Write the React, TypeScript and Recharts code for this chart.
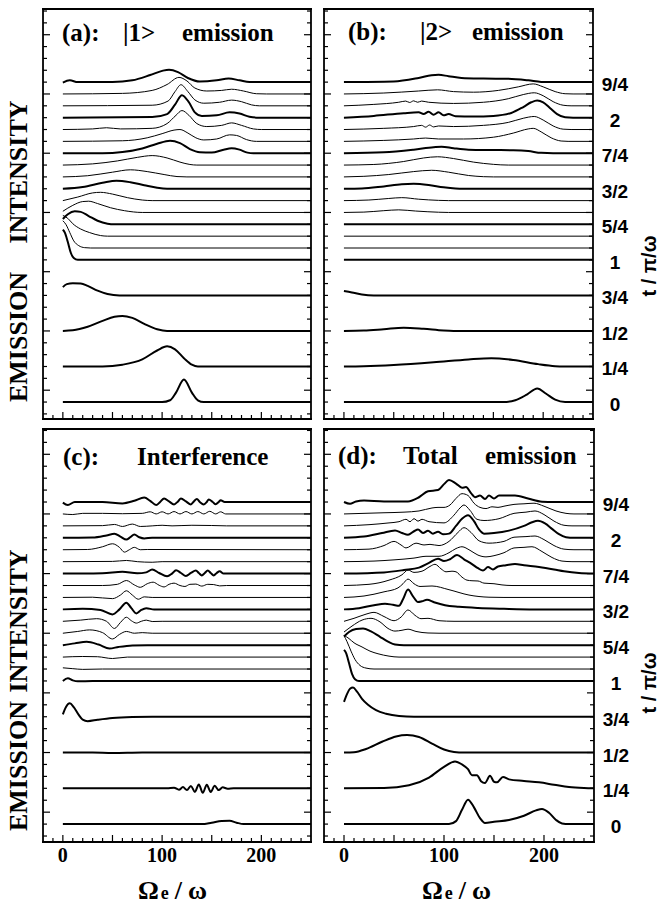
import React from 'react';
import { ComposedChart, Line, XAxis, YAxis } from 'recharts';

type Pt = [number, number];

// trace times in twelfths of pi/omega, bottom trace first
const twelfths = [0, 3, 6, 9, 12, 13, 14, 15, 16, 17, 18, 19, 20, 21, 22, 23, 24, 25, 26, 27];

const timeLabels: Record<number, string> = {
  0: '0', 3: '1/4', 6: '1/2', 9: '3/4', 12: '1', 15: '5/4', 18: '3/2', 21: '7/4', 24: '2', 27: '9/4',
};

const xTicks = [-10, 0, 10, 20, 30, 40, 50, 60, 70, 80, 90, 100, 110, 120, 130, 140, 150, 160, 170, 180, 190, 200, 210, 220, 230, 240];
const yTicks = [-1, 0, 1, 2, 3, 4, 5, 6, 7, 8, 9, 10, 11, 12, 13, 14, 15, 16, 17, 18, 19, 20, 21, 22, 23, 24, 25, 26, 27, 28, 29, 30, 31, 32, 33];
const freqLabels = [0, 100, 200];

// spectra: [Omega_e/omega, intensity above the trace baseline]
const emission1: Pt[][] = [
  [[0, 0], [100, 0], [108, 0.15], [114, 0.8], [122, 1.9], [130, 0.8], [136, 0.15], [142, 0], [250, 0]],
  [[0, 0], [40, 0], [60, 0.15], [80, 0.6], [95, 1.35], [105, 1.7], [113, 1.45], [122, 0.7], [130, 0.15], [136, 0], [250, 0]],
  [[0, 0], [10, 0.05], [25, 0.35], [40, 0.85], [52, 1.2], [60, 1.27], [70, 1.1], [82, 0.6], [95, 0.15], [105, 0], [250, 0]],
  [[0, 0.7], [4, 0.95], [10, 1.02], [18, 1.0], [25, 0.8], [35, 0.4], [45, 0.12], [57, 0], [250, 0]],
  [[0, 2.55], [2, 2.3], [5, 1.5], [8, 0.6], [11, 0.15], [15, 0], [250, 0]],
  [[0, 2.3], [3, 2.0], [7, 1.3], [11, 0.6], [16, 0.2], [22, 0.03], [28, 0], [250, 0]],
  [[0, 1.75], [5, 1.5], [10, 1.05], [18, 0.6], [27, 0.3], [38, 0.05], [45, 0], [250, 0]],
  [[0, 0.45], [5, 0.85], [12, 1.1], [18, 1.05], [26, 0.7], [35, 0.3], [45, 0.05], [52, 0], [250, 0]],
  [[0, 0.1], [10, 0.6], [20, 0.92], [26, 0.95], [35, 0.75], [48, 0.4], [62, 0.15], [80, 0], [250, 0]],
  [[0, 0], [15, 0.3], [30, 0.65], [38, 0.7], [50, 0.55], [65, 0.25], [80, 0.05], [90, 0], [250, 0]],
  [[0, 0], [20, 0.15], [40, 0.5], [54, 0.68], [68, 0.55], [82, 0.3], [95, 0.08], [105, 0], [250, 0]],
  [[0, 0], [25, 0.1], [50, 0.4], [68, 0.6], [85, 0.45], [102, 0.2], [115, 0.03], [125, 0], [250, 0]],
  [[0, 0], [30, 0.1], [55, 0.35], [75, 0.65], [90, 0.8], [105, 0.6], [118, 0.25], [128, 0.05], [135, 0], [250, 0]],
  [[0, 0], [40, 0], [60, 0.1], [80, 0.4], [95, 0.8], [108, 1.05], [118, 0.85], [128, 0.35], [138, 0.08], [150, 0.05], [162, 0.3], [170, 0.42], [178, 0.3], [186, 0.05], [192, 0], [250, 0]],
  [[0, 0], [60, 0.05], [85, 0.3], [100, 0.65], [112, 0.95], [118, 1.0], [126, 0.7], [134, 0.3], [142, 0.12], [155, 0.2], [168, 0.55], [175, 0.5], [185, 0.15], [195, 0], [250, 0]],
  [[0, 0], [30, 0.05], [44, 0.15], [58, 0.05], [90, 0.1], [105, 0.5], [114, 1.2], [120, 1.6], [127, 1.2], [135, 0.5], [145, 0.25], [160, 0.35], [170, 0.56], [180, 0.35], [192, 0.05], [200, 0], [250, 0]],
  [[0, 0], [90, 0.05], [105, 0.3], [113, 1.1], [120, 1.9], [127, 1.3], [133, 0.45], [140, 0.15], [155, 0.2], [168, 0.45], [178, 0.35], [188, 0.08], [198, 0], [250, 0]],
  [[0, 0], [90, 0.05], [106, 0.4], [113, 1.2], [119, 1.78], [126, 1.2], [133, 0.5], [142, 0.22], [158, 0.3], [170, 0.48], [180, 0.35], [190, 0.08], [198, 0], [250, 0]],
  [[0, 0], [60, 0.05], [90, 0.3], [105, 0.8], [117, 1.4], [125, 1.1], [133, 0.5], [145, 0.25], [160, 0.3], [170, 0.4], [182, 0.25], [195, 0.02], [205, 0], [250, 0]],
  [[0, -0.05], [7, 0.15], [15, 0], [50, 0], [70, 0.15], [88, 0.6], [100, 0.95], [107, 1.05], [116, 0.85], [126, 0.35], [138, 0.05], [155, 0.15], [167, 0.3], [178, 0.15], [188, 0], [250, 0]],
];

const emission2: Pt[][] = [
  [[0, 0], [160, 0], [172, 0.15], [184, 0.65], [194, 1.15], [203, 0.7], [212, 0.2], [222, 0], [250, 0]],
  [[0, 0], [20, 0.02], [50, 0.12], [90, 0.35], [125, 0.6], [148, 0.7], [170, 0.55], [195, 0.2], [212, 0.03], [220, 0], [250, 0]],
  [[0, 0], [20, 0.03], [40, 0.15], [60, 0.28], [80, 0.18], [100, 0.03], [110, 0], [250, 0]],
  [[0, 0.37], [8, 0.25], [18, 0.08], [30, 0], [250, 0]],
  [[0, 0], [250, 0]],
  [[0, 0], [250, 0]],
  [[0, 0], [250, 0]],
  [[0, 0], [250, 0]],
  [[0, 0], [20, 0.03], [40, 0.15], [55, 0.22], [72, 0.12], [95, 0.02], [105, 0], [250, 0]],
  [[0, 0], [25, 0.05], [45, 0.18], [58, 0.25], [75, 0.12], [95, 0.02], [105, 0], [250, 0]],
  [[0, 0], [18, 0.02], [40, 0.2], [58, 0.38], [70, 0.42], [85, 0.32], [100, 0.12], [112, 0.02], [120, 0], [250, 0]],
  [[0, 0], [20, 0.05], [45, 0.2], [70, 0.45], [88, 0.56], [105, 0.4], [125, 0.12], [140, 0.02], [150, 0], [250, 0]],
  [[0, 0], [30, 0.05], [60, 0.3], [80, 0.6], [94, 0.7], [110, 0.55], [130, 0.25], [150, 0.06], [165, 0], [250, 0]],
  [[0, 0], [40, 0.08], [70, 0.3], [90, 0.5], [98, 0.55], [110, 0.42], [125, 0.3], [150, 0.27], [170, 0.25], [185, 0.18], [198, 0.03], [210, 0], [250, 0]],
  [[0, 0], [40, 0.08], [70, 0.2], [82, 0.28], [95, 0.2], [120, 0.2], [150, 0.35], [170, 0.7], [185, 1.05], [190, 1.1], [198, 0.8], [208, 0.3], [218, 0.03], [225, 0], [250, 0]],
  [[0, 0], [40, 0.1], [70, 0.25], [78, 0.35], [82, 0.2], [86, 0.38], [90, 0.22], [95, 0.3], [110, 0.25], [140, 0.35], [165, 0.6], [180, 0.95], [191, 1.1], [200, 0.8], [210, 0.3], [220, 0.03], [228, 0], [250, 0]],
  [[0, 0], [30, 0.15], [60, 0.38], [75, 0.45], [80, 0.3], [85, 0.5], [90, 0.25], [95, 0.45], [100, 0.2], [105, 0.3], [112, 0.12], [130, 0.1], [150, 0.15], [168, 0.4], [180, 0.9], [188, 1.3], [194, 1.45], [200, 1.3], [207, 0.8], [214, 0.3], [222, 0.03], [230, 0], [250, 0]],
  [[0, 0], [30, 0.12], [55, 0.3], [62, 0.4], [66, 0.28], [70, 0.42], [74, 0.3], [78, 0.4], [85, 0.3], [110, 0.2], [140, 0.3], [165, 0.6], [180, 0.95], [191, 1.1], [200, 0.85], [210, 0.35], [220, 0.05], [228, 0], [250, 0]],
  [[0, 0], [40, 0.08], [75, 0.25], [94, 0.35], [110, 0.2], [130, 0.15], [155, 0.3], [175, 0.6], [190, 0.85], [200, 0.6], [212, 0.2], [222, 0.02], [230, 0], [250, 0]],
  [[0, 0], [50, 0.05], [75, 0.35], [88, 0.58], [95, 0.62], [105, 0.5], [118, 0.35], [140, 0.3], [165, 0.28], [185, 0.15], [198, 0.02], [205, 0], [250, 0]],
];

const interference: Pt[][] = [
  [[0, 0], [140, 0], [150, 0.12], [160, 0.27], [168, 0.28], [175, 0.12], [182, 0], [250, 0]],
  [[0, 0], [105, 0], [112, 0.05], [117, -0.12], [121, 0.1], [125, -0.15], [129, 0.2], [133, -0.3], [137, 0.32], [141, -0.38], [145, 0.3], [149, -0.3], [153, 0.22], [157, -0.15], [161, 0.08], [166, -0.03], [172, 0], [250, 0]],
  [[0, 0], [30, 0], [50, -0.04], [80, 0], [250, 0]],
  [[0, 0.2], [3, 0.8], [7, 1.13], [11, 0.8], [16, 0.15], [20, -0.25], [25, -0.37], [35, -0.25], [50, -0.1], [70, -0.02], [90, 0], [250, 0]],
  [[0, 0], [5, 0.22], [10, 0.05], [15, -0.03], [30, 0], [250, 0]],
  [[0, 0.1], [10, 0.03], [20, -0.03], [40, 0], [250, 0]],
  [[0, 0], [20, 0.05], [35, 0.03], [50, -0.12], [65, 0], [250, 0]],
  [[0, 0], [12, 0.15], [24, 0.28], [36, 0.05], [47, -0.28], [56, -0.15], [70, -0.02], [85, 0], [250, 0]],
  [[0, 0], [15, 0.15], [27, 0.28], [40, 0.05], [50, -0.48], [57, -0.1], [64, 0.15], [72, 0], [80, 0.05], [90, 0], [250, 0]],
  [[0, 0], [18, 0.1], [34, 0.22], [44, 0], [52, -0.6], [58, -0.1], [64, 0.34], [69, 0.05], [74, -0.15], [79, 0], [84, 0.1], [90, -0.02], [100, 0], [250, 0]],
  [[0, 0], [20, 0.05], [38, -0.05], [50, -0.42], [57, 0], [64, 0.56], [69, 0.1], [74, -0.34], [79, -0.05], [84, 0.1], [92, -0.02], [100, 0], [250, 0]],
  [[0, 0], [30, 0.02], [50, -0.1], [58, 0.2], [64, 0.56], [70, 0.2], [76, -0.15], [82, 0.05], [90, 0], [250, 0]],
  [[0, 0], [40, 0], [55, 0.1], [64, 0.42], [72, 0.05], [78, -0.15], [85, 0.15], [91, 0.28], [97, 0.02], [102, -0.12], [107, 0.1], [112, 0.2], [118, 0], [123, -0.08], [128, 0.1], [134, 0.12], [140, -0.05], [146, 0.1], [152, 0.08], [158, -0.03], [165, 0], [250, 0]],
  [[0, 0], [40, 0.02], [60, 0.15], [75, 0.02], [84, 0.1], [90, 0.34], [97, 0.05], [105, -0.23], [110, 0], [114, 0.28], [119, 0.05], [124, -0.2], [129, 0.05], [134, 0.25], [137, 0.05], [140, -0.15], [143, 0.05], [146, 0.25], [149, 0.05], [152, -0.15], [155, 0.05], [158, 0.2], [162, 0], [168, 0], [250, 0]],
  [[0, 0], [50, 0.02], [64, 0.1], [75, 0], [90, -0.05], [100, 0], [250, 0]],
  [[0, 0], [25, 0.02], [40, 0.25], [50, 0.5], [57, 0.2], [62, -0.2], [67, 0], [72, 0.2], [78, 0], [85, 0.02], [250, 0]],
  [[0, 0], [30, 0.02], [44, 0.2], [52, 0.34], [58, 0.1], [64, -0.15], [68, 0.05], [72, 0.28], [77, 0.05], [82, -0.05], [90, 0], [250, 0]],
  [[0, 0], [40, 0.02], [52, 0.12], [60, -0.05], [70, 0.15], [78, -0.05], [90, 0], [100, 0.05], [110, 0], [130, 0.05], [150, 0.03], [165, 0], [250, 0]],
  [[0, 0], [10, -0.05], [20, 0.05], [40, 0.05], [60, 0.02], [80, 0.05], [88, 0.18], [94, 0], [100, 0.18], [106, 0], [112, 0.2], [118, 0], [124, 0.2], [130, 0], [136, 0.2], [142, 0], [148, 0.22], [154, 0], [159, 0.18], [164, 0], [250, 0]],
  [[0, -0.05], [5, -0.25], [12, 0], [40, 0], [60, -0.12], [72, 0.1], [82, 0.37], [88, 0.1], [94, -0.25], [98, 0], [102, 0.3], [107, 0.05], [112, -0.2], [116, 0.05], [119, 0.3], [124, 0.05], [129, -0.2], [132, 0.05], [135, 0.25], [138, 0], [142, -0.2], [145, 0], [147, 0.22], [151, 0], [154, -0.18], [157, 0], [159, 0.15], [163, 0], [168, 0], [250, 0]],
];

const totalEmission: Pt[][] = [
  [[0, 0], [105, 0], [112, 0.25], [118, 1.2], [124, 2.05], [130, 1.4], [136, 0.5], [141, 0.1], [150, 0.2], [165, 0.35], [180, 0.7], [192, 1.15], [198, 1.27], [205, 0.95], [212, 0.35], [218, 0.05], [225, 0], [250, 0]],
  [[0, 0], [40, 0.02], [65, 0.25], [85, 0.9], [100, 1.8], [111, 2.25], [118, 2.0], [124, 1.6], [128, 1.1], [133, 1.1], [137, 0.6], [141, 0.45], [146, 1.05], [150, 0.55], [153, 0.5], [159, 0.95], [165, 0.75], [180, 0.62], [195, 0.5], [210, 0.3], [225, 0.1], [240, 0.02], [250, 0]],
  [[0, 0], [10, 0.03], [22, 0.3], [38, 0.9], [52, 1.35], [63, 1.47], [75, 1.3], [88, 0.75], [100, 0.25], [110, 0.05], [120, 0], [250, 0]],
  [[0, 1.25], [3, 1.9], [6, 2.35], [9, 2.45], [13, 2.1], [18, 1.5], [24, 1.0], [32, 0.55], [42, 0.25], [55, 0.06], [70, 0], [250, 0]],
  [[0, 2.6], [2, 2.35], [5, 1.5], [8, 0.6], [11, 0.15], [15, 0], [250, 0]],
  [[0, 2.8], [3, 2.3], [7, 1.5], [11, 0.8], [16, 0.3], [22, 0.08], [30, 0], [250, 0]],
  [[0, 1.83], [5, 1.55], [10, 1.2], [18, 0.85], [26, 0.5], [34, 0.28], [45, 0.08], [55, 0], [250, 0]],
  [[0, 0.73], [5, 1.1], [12, 1.35], [19, 1.4], [27, 1.15], [36, 0.7], [44, 0.3], [51, 0.05], [60, 0], [250, 0]],
  [[0, 0.1], [8, 0.6], [18, 1.1], [27, 1.25], [36, 0.95], [44, 0.4], [51, 0.18], [58, 0.25], [64, 0.34], [72, 0.15], [84, 0.02], [95, 0], [250, 0]],
  [[0, 0], [10, 0.25], [22, 0.6], [30, 0.75], [40, 0.4], [50, 0.05], [57, 0.35], [64, 0.95], [71, 0.5], [77, 0.22], [84, 0.25], [95, 0.05], [110, 0], [250, 0]],
  [[0, 0], [15, 0.1], [30, 0.35], [41, 0.48], [49, 0.38], [55, 0.3], [59, 0.85], [64, 1.66], [69, 1.1], [74, 0.62], [78, 0.68], [83, 0.8], [90, 0.6], [101, 0.35], [115, 0.22], [134, 0.12], [160, 0.05], [190, 0], [250, 0]],
  [[0, 0], [20, 0.12], [40, 0.47], [54, 0.8], [59, 1.15], [64, 1.54], [70, 1.15], [76, 0.92], [88, 0.96], [105, 0.65], [125, 0.2], [145, 0.02], [160, 0], [250, 0]],
  [[0, 0], [25, 0.1], [45, 0.45], [58, 0.9], [64, 1.3], [70, 1.1], [78, 1.2], [86, 1.6], [91, 1.78], [97, 1.4], [102, 1.15], [108, 1.2], [112, 1.15], [118, 0.7], [123, 0.45], [128, 0.4], [134, 0.38], [140, 0.2], [150, 0.15], [158, 0.05], [168, 0], [250, 0]],
  [[0, 0], [40, 0.1], [60, 0.3], [75, 0.5], [85, 0.9], [94, 1.25], [100, 1.05], [106, 1.2], [113, 1.55], [120, 1.2], [128, 0.8], [134, 0.45], [139, 0.25], [144, 0.55], [149, 0.35], [154, 0.6], [162, 0.7], [171, 0.8], [180, 0.7], [195, 0.55], [210, 0.35], [220, 0.2], [235, 0.05], [250, 0]],
  [[0, 0], [30, 0.05], [50, 0.15], [70, 0.3], [82, 0.45], [95, 0.45], [105, 0.75], [112, 1.1], [118, 1.25], [126, 0.95], [134, 0.55], [142, 0.4], [150, 0.5], [160, 0.75], [170, 1.15], [180, 1.2], [188, 1.25], [198, 0.85], [208, 0.35], [218, 0.05], [228, 0], [250, 0]],
  [[0, 0], [25, 0.05], [40, 0.35], [50, 0.7], [57, 0.4], [62, 0.15], [72, 0.55], [80, 0.4], [86, 0.45], [95, 0.35], [105, 0.7], [114, 1.45], [120, 1.85], [127, 1.45], [135, 0.75], [145, 0.55], [160, 0.7], [170, 1.05], [182, 1.1], [191, 1.15], [200, 0.85], [210, 0.35], [220, 0.05], [230, 0], [250, 0]],
  [[0, 0], [20, 0.1], [38, 0.4], [51, 0.62], [58, 0.4], [64, 0.25], [70, 0.55], [74, 0.7], [79, 0.4], [84, 0.6], [89, 0.35], [94, 0.5], [99, 0.3], [105, 0.35], [112, 1.0], [118, 1.6], [124, 1.9], [130, 1.4], [135, 0.7], [140, 0.35], [150, 0.4], [165, 0.6], [180, 1.0], [188, 1.3], [194, 1.42], [201, 1.2], [208, 0.75], [215, 0.3], [222, 0.05], [230, 0], [250, 0]],
  [[0, 0], [25, 0.1], [45, 0.25], [55, 0.35], [62, 0.55], [66, 0.35], [70, 0.6], [74, 0.4], [78, 0.55], [85, 0.35], [100, 0.25], [110, 0.9], [116, 1.5], [120, 1.75], [126, 1.3], [133, 0.55], [140, 0.45], [155, 0.6], [170, 1.05], [182, 1.15], [191, 1.25], [200, 0.95], [210, 0.4], [220, 0.05], [228, 0], [250, 0]],
  [[0, 0], [20, 0.05], [40, 0.1], [60, 0.15], [75, 0.25], [88, 0.5], [94, 0.55], [100, 0.55], [106, 0.75], [112, 1.3], [118, 1.7], [124, 1.55], [130, 0.9], [136, 0.55], [142, 0.45], [148, 0.6], [154, 0.55], [160, 0.65], [170, 0.8], [180, 0.85], [190, 0.9], [200, 0.65], [212, 0.25], [222, 0.05], [230, 0], [250, 0]],
  [[0, 0], [6, -0.15], [12, 0.05], [20, 0.12], [40, 0.05], [64, 0.05], [75, 0.4], [84, 0.9], [94, 1.0], [100, 1.5], [105, 1.85], [112, 1.55], [118, 1.2], [122, 1.25], [127, 0.75], [131, 0.4], [136, 0.55], [141, 0.25], [145, 0.55], [150, 0.3], [155, 0.55], [165, 0.55], [171, 0.55], [184, 0.3], [198, 0.03], [210, 0], [250, 0]],
];

const SERIF = '"Liberation Serif", "Times New Roman", serif';
const SANS = '"Liberation Sans", Arial, sans-serif';
const PAD = 4;
const RIGHT_SPACE = 60;
const BOTTOM_SPACE = 30;
// axes get a hair of size so they still render, without taking room from the plot
const AXIS_SIZE = 0.01;
const frame = { stroke: '#000', strokeWidth: 1.8, strokeLinecap: 'square' as const };

const BottomTick = (props: any) => {
  const { x, y, payload, labels } = props;
  const v = payload.value;
  return (
    <g>
      <line x1={x} y1={y} x2={x} y2={y - (v % 50 === 0 ? 7 : 4)} stroke="#000" strokeWidth={1.2} />
      {labels && freqLabels.includes(v) && (
        <text x={x} y={y + 20} textAnchor="middle" fontFamily={SERIF} fontWeight="bold" fontSize={20} fill="#000">
          {v}
        </text>
      )}
    </g>
  );
};

const TopTick = (props: any) => {
  const { x, y, payload } = props;
  return <line x1={x} y1={y} x2={x} y2={y + (payload.value % 50 === 0 ? 7 : 4)} stroke="#000" strokeWidth={1.2} />;
};

const LeftTick = (props: any) => {
  const { x, y, payload } = props;
  const major = (payload.value - 1) % 5 === 0;
  return <line x1={x} y1={y} x2={x + (major ? 7 : 4)} y2={y} stroke="#000" strokeWidth={1.2} />;
};

const RightTick = (props: any) => {
  const { x, y, payload, labels } = props;
  const major = (payload.value - 1) % 5 === 0;
  const label = labels ? timeLabels[payload.value] : undefined;
  return (
    <g>
      <line x1={x} y1={y} x2={x - (major ? 7 : 4)} y2={y} stroke="#000" strokeWidth={1.2} />
      {label && (
        <text x={x + 22} y={y + 9} textAnchor="middle" fontFamily={SANS} fontWeight="bold" fontSize={19} fill="#000">
          {label}
        </text>
      )}
    </g>
  );
};

interface PanelProps {
  traces: Pt[][];
  left: number;
  top: number;
  width: number;
  height: number;
  yDomain: [number, number];
  timeAxis?: boolean;
  freqAxis?: boolean;
}

function Panel({ traces, left, top, width, height, yDomain, timeAxis, freqAxis }: PanelProps) {
  return (
    <div style={{ position: 'absolute', left: left - PAD, top: top - PAD }}>
      <ComposedChart
        width={width + PAD + RIGHT_SPACE}
        height={height + PAD + BOTTOM_SPACE}
        margin={{ top: PAD, left: PAD, right: RIGHT_SPACE, bottom: BOTTOM_SPACE }}
      >
        <XAxis
          xAxisId="b" dataKey="x" type="number" domain={[-20, 250]} ticks={xTicks} interval={0}
          height={AXIS_SIZE} tickSize={0} tickMargin={0} tickLine={false} axisLine={frame} allowDataOverflow
          tick={(p: any) => <BottomTick {...p} labels={freqAxis} />}
        />
        <XAxis
          xAxisId="t" orientation="top" type="number" domain={[-20, 250]} ticks={xTicks} interval={0}
          height={AXIS_SIZE} tickSize={0} tickMargin={0} tickLine={false} axisLine={frame} allowDataOverflow
          tick={(p: any) => <TopTick {...p} />}
        />
        <YAxis
          yAxisId="l" type="number" domain={yDomain} ticks={yTicks} interval={0}
          width={AXIS_SIZE} tickSize={0} tickMargin={0} tickLine={false} axisLine={frame} allowDataOverflow
          tick={(p: any) => <LeftTick {...p} />}
        />
        <YAxis
          yAxisId="r" orientation="right" type="number" domain={yDomain} ticks={yTicks} interval={0}
          width={AXIS_SIZE} tickSize={0} tickMargin={0} tickLine={false} axisLine={frame} allowDataOverflow
          tick={(p: any) => <RightTick {...p} labels={timeAxis} />}
        />
        {traces.map((pts, i) => (
          <Line
            key={i}
            xAxisId="b"
            yAxisId="l"
            data={pts.map(([x, h]) => ({ x, y: twelfths[i] + h }))}
            dataKey="y"
            type="monotone"
            stroke="#000"
            strokeWidth={twelfths[i] % 3 === 0 ? 2 : 1}
            dot={false}
            activeDot={false}
            isAnimationActive={false}
          />
        ))}
      </ComposedChart>
    </div>
  );
}

const titleStyle = { fontFamily: SERIF, fontWeight: 'bold' as const, fontSize: 25, fill: '#000' };
const yLabelStyle = { fontFamily: SERIF, fontWeight: 'bold' as const, fontSize: 26, fill: '#000' };
const timeTitleStyle = { fontFamily: SANS, fontWeight: 'bold' as const, fontSize: 20, fill: '#000' };

function FreqLabel({ x }: { x: number }) {
  return (
    <text x={x} y={899} fontFamily={SERIF} fontWeight="bold" fontSize={26} fill="#000">
      Ω<tspan dx={2} fontSize={18}>e</tspan>
      <tspan dx={6}>/</tspan>
      <tspan dx={6}>ω</tspan>
    </text>
  );
}

export default function App() {
  const topDomain: [number, number] = [-1.43, 33.17];
  const bottomDomain: [number, number] = [-1.5, 33.12];
  return (
    <div style={{ position: 'absolute', left: 0, top: 0, width: 663, height: 908, background: '#fff' }}>
      <Panel traces={emission1} left={43} top={9} width={268} height={410} yDomain={topDomain} />
      <Panel traces={emission2} left={324} top={9} width={269} height={410} yDomain={topDomain} timeAxis />
      <Panel traces={interference} left={43} top={429} width={268} height={413} yDomain={bottomDomain} freqAxis />
      <Panel traces={totalEmission} left={324} top={429} width={270} height={413} yDomain={bottomDomain} timeAxis freqAxis />
      <svg width={663} height={908} style={{ position: 'absolute', left: 0, top: 0, pointerEvents: 'none' }}>
        <text x={62} y={41} {...titleStyle}>(a):</text>
        <text x={123} y={41} {...titleStyle}>|1&gt;</text>
        <text x={182} y={41} {...titleStyle}>emission</text>
        <text x={348} y={40} {...titleStyle}>(b):</text>
        <text x={420} y={40} {...titleStyle}>|2&gt;</text>
        <text x={472} y={40} {...titleStyle}>emission</text>
        <text x={63} y={465} {...titleStyle}>(c):</text>
        <text x={137} y={465} {...titleStyle}>Interference</text>
        <text x={338} y={464} {...titleStyle}>(d):</text>
        <text x={403} y={464} {...titleStyle}>Total</text>
        <text x={485} y={464} {...titleStyle}>emission</text>

        <text transform="translate(27,172) rotate(-90)" textAnchor="middle" {...yLabelStyle}>INTENSITY</text>
        <text transform="translate(27,337) rotate(-90)" textAnchor="middle" {...yLabelStyle}>EMISSION</text>
        <text transform="translate(27,621) rotate(-90)" textAnchor="middle" {...yLabelStyle}>INTENSITY</text>
        <text transform="translate(27,766) rotate(-90)" textAnchor="middle" {...yLabelStyle}>EMISSION</text>

        <text transform="translate(656,266) rotate(-90)" textAnchor="middle" {...timeTitleStyle}>t / π/ω</text>
        <text transform="translate(656,683) rotate(-90)" textAnchor="middle" {...timeTitleStyle}>t / π/ω</text>

        <FreqLabel x={138} />
        <FreqLabel x={422} />
      </svg>
    </div>
  );
}
